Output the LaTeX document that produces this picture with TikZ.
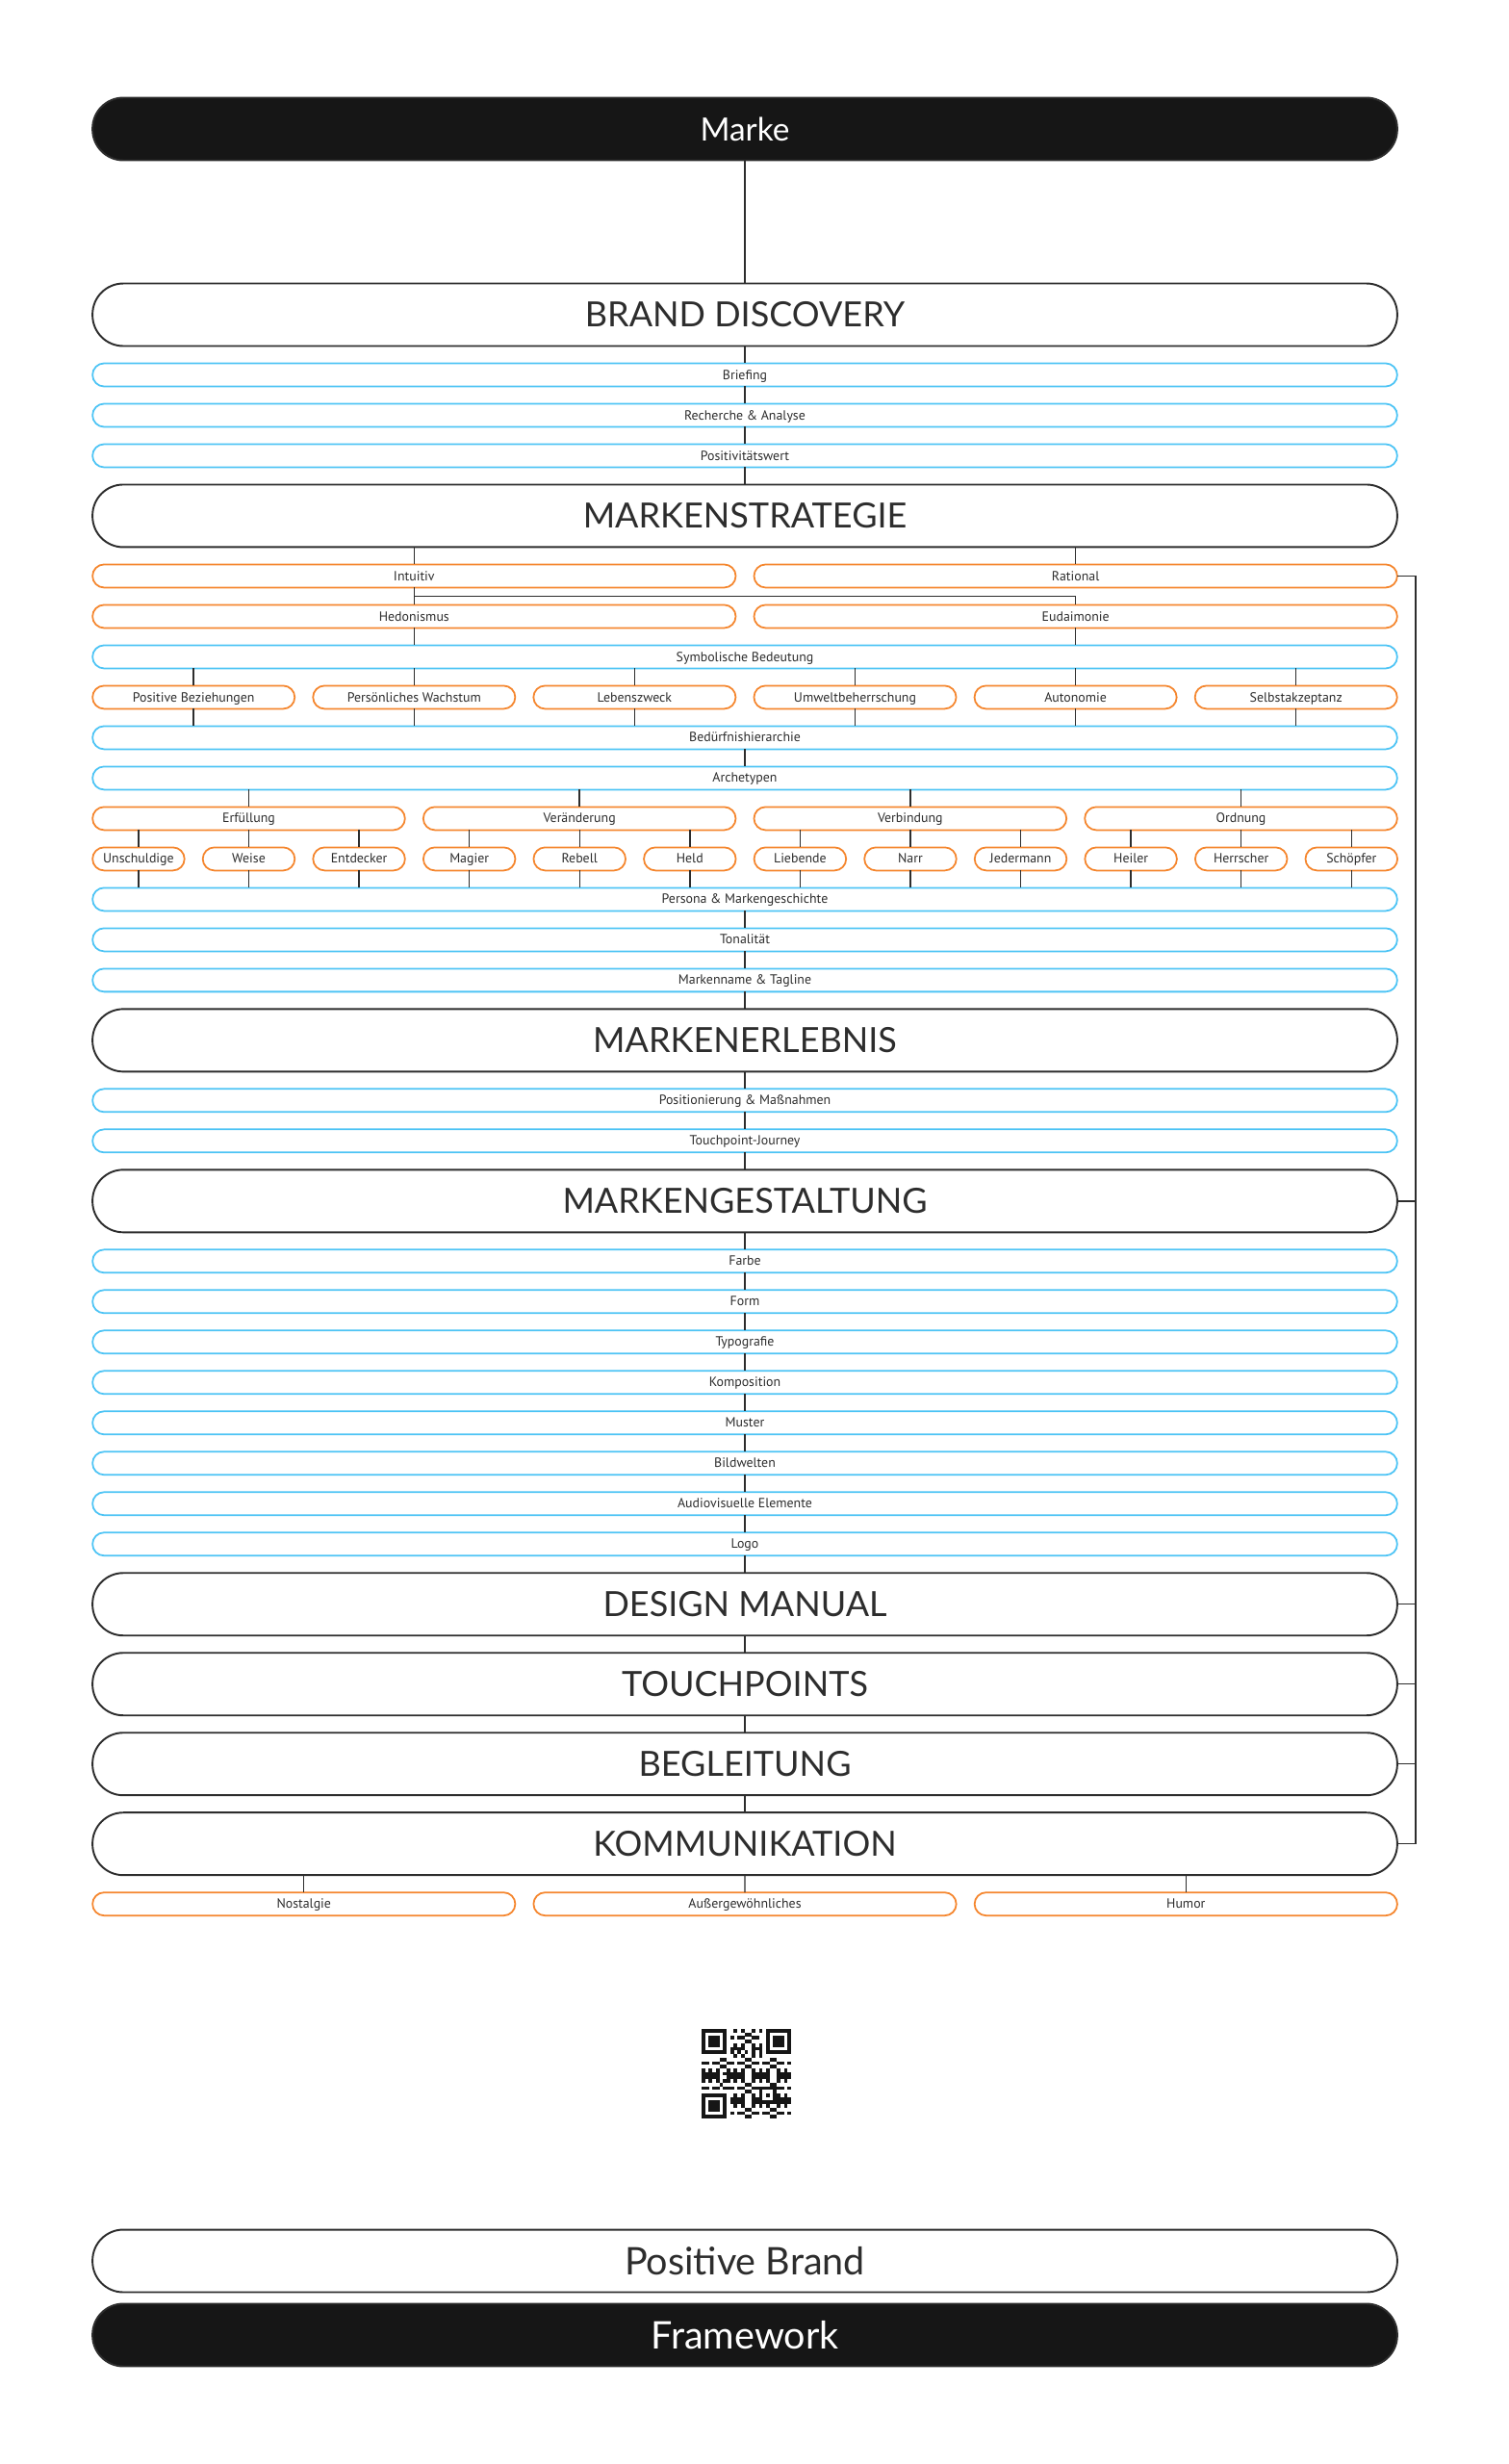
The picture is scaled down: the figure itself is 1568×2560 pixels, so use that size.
\documentclass[tikz,border=0pt]{standalone}
\usepackage{fontspec}
\setmainfont{Lato}
\newfontfamily\labelfont{PT Sans}
\usepackage{tikz}
\usetikzlibrary{positioning, calc}
\definecolor{markeblack}{RGB}{22, 22, 22}
\definecolor{linegrey}{RGB}{45, 45, 45}
\definecolor{stepblue}{RGB}{77, 196, 245}
\definecolor{optorange}{RGB}{245, 134, 46}

\begin{document}
\begin{tikzpicture}[
    x=0.02cm, y=-0.02cm, node distance=0.36cm and 0.38cm,
    phase/.style={rectangle, draw=linegrey, line width=1.1pt, outer sep=0pt, rounded corners=0.64cm, minimum width=27.12cm, minimum height=1.3cm, inner sep=0pt, font=\fontsize{20.5}{20.5}\selectfont, text=linegrey},
    bar/.style={phase, fill=markeblack, text=white},
    stepbox/.style={rectangle, draw=stepblue, line width=1pt, outer sep=0pt, rounded corners=0.24cm, minimum width=27.12cm, minimum height=0.48cm, inner sep=0pt, text height=0.72em, text depth=0.2em, font=\labelfont\fontsize{7.9}{8}\selectfont, text=linegrey},
    optbox/.style={stepbox, draw=optorange},
    half/.style={optbox, minimum width=13.37cm},
    third/.style={optbox, minimum width=8.787cm},
    quarter/.style={optbox, minimum width=6.495cm},
    sixth/.style={optbox, minimum width=4.203cm},
    twelfth/.style={optbox, minimum width=1.912cm},
    link/.style={draw=linegrey, line width=0.8pt}
  ]
    \fill[white] (0,0) rectangle (1568,2560);
    \useasboundingbox (0,0) rectangle (1568,2560);

    \node (marke) [bar, font=\fontsize{19}{19}\selectfont] at (774,134) {Marke};
    \node (discovery) [phase] at (774,327) {BRAND DISCOVERY};
    \node (briefing) [stepbox, below=of discovery] {Briefing};
    \node (recherche) [stepbox, below=of briefing] {Recherche \& Analyse};
    \node (positiv) [stepbox, below=of recherche] {Positivitätswert};
    \node (strategie) [phase, below=of positiv] {MARKENSTRATEGIE};

    \node (intuitiv) [half, below=of strategie.south west, anchor=north west] {Intuitiv};
    \node (rational) [half, right=of intuitiv] {Rational};
    \node (hedon) [half, below=of intuitiv] {Hedonismus};
    \node (eudai) [half, below=of rational] {Eudaimonie};
    \node (symbol) [stepbox, below=of hedon.south west, anchor=north west] {Symbolische Bedeutung};

    \node (wb1) [sixth, below=of symbol.south west, anchor=north west] {Positive Beziehungen};
    \node (wb2) [sixth, right=of wb1] {Persönliches Wachstum};
    \node (wb3) [sixth, right=of wb2] {Lebenszweck};
    \node (wb4) [sixth, right=of wb3] {Umweltbeherrschung};
    \node (wb5) [sixth, right=of wb4] {Autonomie};
    \node (wb6) [sixth, right=of wb5] {Selbstakzeptanz};
    \node (beduerfnis) [stepbox, below=of wb1.south west, anchor=north west] {Bedürfnishierarchie};
    \node (archetypen) [stepbox, below=of beduerfnis] {Archetypen};

    \node (grp1) [quarter, below=of archetypen.south west, anchor=north west] {Erfüllung};
    \node (grp2) [quarter, right=of grp1] {Veränderung};
    \node (grp3) [quarter, right=of grp2] {Verbindung};
    \node (grp4) [quarter, right=of grp3] {Ordnung};
    \node (at1) [twelfth, below=of grp1.south west, anchor=north west] {Unschuldige};
    \node (at2) [twelfth, right=of at1] {Weise};
    \node (at3) [twelfth, right=of at2] {Entdecker};
    \node (at4) [twelfth, right=of at3] {Magier};
    \node (at5) [twelfth, right=of at4] {Rebell};
    \node (at6) [twelfth, right=of at5] {Held};
    \node (at7) [twelfth, right=of at6] {Liebende};
    \node (at8) [twelfth, right=of at7] {Narr};
    \node (at9) [twelfth, right=of at8] {Jedermann};
    \node (at10) [twelfth, right=of at9] {Heiler};
    \node (at11) [twelfth, right=of at10] {Herrscher};
    \node (at12) [twelfth, right=of at11] {Schöpfer};

    \node (persona) [stepbox, below=of at1.south west, anchor=north west] {Persona \& Markengeschichte};
    \node (tonalitaet) [stepbox, below=of persona] {Tonalität};
    \node (markenname) [stepbox, below=of tonalitaet] {Markenname \& Tagline};
    \node (erlebnis) [phase, below=of markenname] {MARKENERLEBNIS};
    \node (massnahmen) [stepbox, below=of erlebnis] {Positionierung \& Maßnahmen};
    \node (journey) [stepbox, below=of massnahmen] {Touchpoint-Journey};
    \node (gestaltung) [phase, below=of journey] {MARKENGESTALTUNG};
    \node (farbe) [stepbox, below=of gestaltung] {Farbe};
    \node (form) [stepbox, below=of farbe] {Form};
    \node (typo) [stepbox, below=of form] {Typografie};
    \node (komposition) [stepbox, below=of typo] {Komposition};
    \node (muster) [stepbox, below=of komposition] {Muster};
    \node (bildwelten) [stepbox, below=of muster] {Bildwelten};
    \node (audio) [stepbox, below=of bildwelten] {Audiovisuelle Elemente};
    \node (logo) [stepbox, below=of audio] {Logo};
    \node (manual) [phase, below=of logo] {DESIGN MANUAL};
    \node (touchpoints) [phase, below=of manual] {TOUCHPOINTS};
    \node (begleitung) [phase, below=of touchpoints] {BEGLEITUNG};
    \node (komm) [phase, below=of begleitung] {KOMMUNIKATION};
    \node (nostalgie) [third, below=of komm.south west, anchor=north west] {Nostalgie};
    \node (aussergew) [third, right=of nostalgie] {Außergewöhnliches};
    \node (humor) [third, right=of aussergew] {Humor};

    \node (posbrand) [phase, font=\fontsize{22.5}{22.5}\selectfont] at (774,2349) {Positive Brand};
    \node (framework) [bar, font=\fontsize{22.5}{22.5}\selectfont, below=0.24cm of posbrand] {Framework};

    % main line
    \draw[link] (marke) -- (discovery);
    \draw[link] (discovery) -- (briefing);
    \draw[link] (briefing) -- (recherche);
    \draw[link] (recherche) -- (positiv);
    \draw[link] (positiv) -- (strategie);
    \draw[link] (intuitiv.north |- strategie.south) -- (intuitiv);
    \draw[link] (rational.north |- strategie.south) -- (rational);
    \draw[link] (intuitiv) -- (hedon);
    \coordinate (fork) at ($(intuitiv.south)!0.5!(hedon.north)$);
    \draw[link] (fork) -| (eudai.north);
    \draw[link] (hedon.south) -- (hedon.south |- symbol.north);
    \draw[link] (eudai.south) -- (eudai.south |- symbol.north);
    \foreach \n in {wb1, wb2, wb3, wb4, wb5, wb6} {
      \draw[link] (\n.north |- symbol.south) -- (\n.north);
      \draw[link] (\n.south) -- (\n.south |- beduerfnis.north);
    }
    \draw[link] (beduerfnis) -- (archetypen);
    \foreach \g/\a/\b/\c in {grp1/at1/at2/at3, grp2/at4/at5/at6, grp3/at7/at8/at9, grp4/at10/at11/at12} {
      \draw[link] (\g.north |- archetypen.south) -- (\g.north);
      \foreach \n in {\a, \b, \c} {
        \draw[link] (\n.north |- \g.south) -- (\n.north);
        \draw[link] (\n.south) -- (\n.south |- persona.north);
      }
    }
    \draw[link] (persona) -- (tonalitaet);
    \draw[link] (tonalitaet) -- (markenname);
    \draw[link] (markenname) -- (erlebnis);
    \draw[link] (erlebnis) -- (massnahmen);
    \draw[link] (massnahmen) -- (journey);
    \draw[link] (journey) -- (gestaltung);
    \draw[link] (gestaltung) -- (farbe);
    \draw[link] (farbe) -- (form);
    \draw[link] (form) -- (typo);
    \draw[link] (typo) -- (komposition);
    \draw[link] (komposition) -- (muster);
    \draw[link] (muster) -- (bildwelten);
    \draw[link] (bildwelten) -- (audio);
    \draw[link] (audio) -- (logo);
    \draw[link] (logo) -- (manual);
    \draw[link] (manual) -- (touchpoints);
    \draw[link] (touchpoints) -- (begleitung);
    \draw[link] (begleitung) -- (komm);
    \draw[link] (nostalgie.north |- komm.south) -- (nostalgie);
    \draw[link] (komm) -- (aussergew);
    \draw[link] (humor.north |- komm.south) -- (humor);

    % side line from Rational
    \coordinate (bus) at ($(rational.east)+(0.38cm,0)$);
    \draw[link] (rational.east) -- (bus) |- (komm.east);
    \draw[link] (gestaltung.east) -- (gestaltung.east -| bus);
    \draw[link] (manual.east) -- (manual.east -| bus);
    \draw[link] (touchpoints.east) -- (touchpoints.east -| bus);
    \draw[link] (begleitung.east) -- (begleitung.east -| bus);

    % QR code
    \foreach \r in {0,...,24} {
      \foreach \c in {0,...,24} {
        \pgfmathtruncatemacro\qrfree{!((\r<8 && \c<8) || (\r<8 && \c>16) || (\r>16 && \c<8) || (\r>15 && \r<21 && \c>15 && \c<21))}
        \pgfmathtruncatemacro\qrbit{(\r==6 || \c==6) ? mod(\r+\c+1,2) : (mod(\r*\r*3+\c*\c*5+\r*\c*7+\r*2+\c,7)<3)}
        \ifnum\qrfree\qrbit=11 \fill[markeblack] (729+\c*3.72,2108+\r*3.72) rectangle ++(3.8,3.8); \fi
      }
    }
    \foreach \fx/\fy in {0/0, 18/0, 0/18} {
      \fill[markeblack] (729+\fx*3.72,2108+\fy*3.72) rectangle ++(26.04,26.04);
      \fill[white] (732.72+\fx*3.72,2111.72+\fy*3.72) rectangle ++(18.6,18.6);
      \fill[markeblack] (736.44+\fx*3.72,2115.44+\fy*3.72) rectangle ++(11.16,11.16);
    }
    \fill[markeblack] (788.52,2167.52) rectangle ++(18.6,18.6);
    \fill[white] (792.24,2171.24) rectangle ++(11.16,11.16);
    \fill[markeblack] (795.96,2174.96) rectangle ++(3.72,3.72);
  \end{tikzpicture}
\end{document}
